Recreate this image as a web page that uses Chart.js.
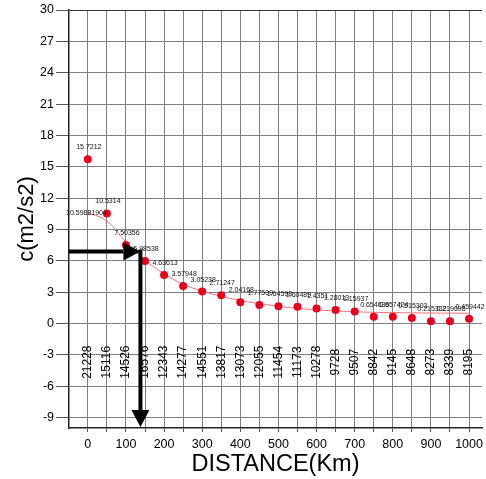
<!DOCTYPE html>
<html><head><meta charset="utf-8">
<script src="https://cdn.jsdelivr.net/npm/chart.js@4.4.1/dist/chart.umd.min.js"></script>
<style>html,body{margin:0;padding:0;background:#fff}#wrap{width:486px;height:479px}</style>
</head><body><div id="wrap"><canvas id="c" width="486" height="479"></canvas></div>
<script>
const distances = [0,50,100,150,200,250,300,350,400,450,500,550,600,650,700,750,800,850,900,950,1000];
const covValues = [15.7212,10.5314,7.50356,5.98538,4.63613,3.57948,3.05238,2.71247,2.04168,1.77509,1.64598,1.60489,1.4351,1.28013,1.15937,0.654639,0.657424,0.515303,0.215332,0.219698,0.459442];
const valueLabels = ["15.7212","10.5314","7.50356","5.98538","4.63613","3.57948","3.05238","2.71247","2.04168","1.77509","1.64598","1.60489","1.4351","1.28013","1.15937","0.654639","0.657424","0.515303","0.215332","0.219698","0.459442"];
const pairCounts = [21228,15116,14526,16576,12343,14277,14551,13817,13073,12055,11454,11173,10278,9728,9507,8842,9145,8648,8273,8339,8195];
const fitValues = [10.60,9.8,7.8,6.05,4.75,3.75,3.1,2.6,2.2,1.9,1.65,1.45,1.3,1.2,1.12,1.07,1.04,1.02,1.0,0.99,0.98];
const fitLabel = "10.59881904";
const xTicks = [0,50,100,150,200,250,300,350,400,450,500,550,600,650,700,750,800,850,900,950,1000];
const yTicks = [-9,-6,-3,0,3,6,9,12,15,18,21,24,27,30];
const arrowLevel = 6.9;
const arrowDistance = 138;
const countLabelLevel = -3.7;

const FONT = "'Liberation Sans', Arial, Helvetica, sans-serif";
Chart.defaults.font.family = FONT;
Chart.defaults.color = '#000';

const annot = {
  id: 'annot',
  afterDatasetsDraw(chart) {
    const ctx = chart.ctx, xs = chart.scales.x, ys = chart.scales.y, ca = chart.chartArea;
    ctx.save();
    // value labels
    ctx.fillStyle = '#111';
    ctx.font = '7px ' + FONT;
    ctx.textAlign = 'center';
    ctx.textBaseline = 'middle';
    distances.forEach((d, i) => {
      ctx.fillText(valueLabels[i], xs.getPixelForValue(d) + 1, ys.getPixelForValue(covValues[i]) - 12);
    });
    // fit label
    ctx.textAlign = 'right';
    ctx.fillText(fitLabel, xs.getPixelForValue(distances[1]), ys.getPixelForValue(fitValues[0]));
    // count labels
    ctx.fillStyle = '#000';
    ctx.font = '12px ' + FONT;
    ctx.textAlign = 'center';
    distances.forEach((d, i) => {
      ctx.save();
      ctx.translate(xs.getPixelForValue(d), ys.getPixelForValue(countLabelLevel));
      ctx.rotate(-Math.PI / 2);
      ctx.fillText(String(pairCounts[i]), 0, 0);
      ctx.restore();
    });
    // arrows
    const ax = xs.getPixelForValue(arrowDistance);
    const ay = ys.getPixelForValue(arrowLevel);
    const hl = 17, hw = 9;
    ctx.strokeStyle = '#000';
    ctx.fillStyle = '#000';
    ctx.lineWidth = 4;
    ctx.beginPath();
    ctx.moveTo(ca.left, ay);
    ctx.lineTo(ax - hl, ay);
    ctx.stroke();
    ctx.beginPath();
    ctx.moveTo(ax, ay);
    ctx.lineTo(ax - hl, ay - hw);
    ctx.lineTo(ax - hl, ay + hw);
    ctx.closePath();
    ctx.fill();
    ctx.beginPath();
    ctx.moveTo(ax, ay - 2);
    ctx.lineTo(ax, ca.bottom - hl);
    ctx.stroke();
    ctx.beginPath();
    ctx.moveTo(ax, ca.bottom - 1);
    ctx.lineTo(ax - hw, ca.bottom - 1 - hl);
    ctx.lineTo(ax + hw, ca.bottom - 1 - hl);
    ctx.closePath();
    ctx.fill();
    ctx.restore();
  }
};

new Chart(document.getElementById('c'), {
  type: 'scatter',
  data: {
    datasets: [
      {
        type: 'line',
        data: distances.map((d, i) => ({x: d, y: fitValues[i]})),
        borderColor: '#ff7070',
        borderWidth: 1,
        pointRadius: 0,
        tension: 0.4,
        fill: false,
        order: 2
      },
      {
        type: 'scatter',
        data: distances.map((d, i) => ({x: d, y: covValues[i]})),
        backgroundColor: '#e8001e',
        borderWidth: 0,
        pointRadius: 4,
        order: 1
      }
    ]
  },
  options: {
    responsive: false,
    animation: false,
    devicePixelRatio: 1,
    layout: {padding: {top: 10, right: 0, bottom: 0, left: 0}},
    plugins: {legend: {display: false}, tooltip: {enabled: false}},
    scales: {
      x: {
        type: 'linear',
        min: -49.4,
        max: 1034,
        afterBuildTicks: s => { s.ticks = xTicks.map(v => ({value: v})); },
        afterFit: s => { s.height = 51; s.paddingLeft = 0; s.paddingRight = 0; },
        ticks: {
          font: {size: 12.5},
          color: '#000',
          padding: 5,
          maxRotation: 0,
          autoSkip: false,
          callback: v => (v % 100 === 0 ? String(v) : '')
        },
        grid: {color: '#808080', lineWidth: 1, tickLength: 4, tickColor: '#555'},
        border: {display: true, color: '#222', width: 1.5},
        title: {display: true, text: 'DISTANCE(Km)', font: {size: 23.5}, color: '#000', padding: {top: 0, bottom: 0}}
      },
      y: {
        type: 'linear',
        min: -10,
        max: 30,
        afterBuildTicks: s => { s.ticks = yTicks.map(v => ({value: v})); },
        afterFit: s => { s.width = 69; s.paddingTop = 0; s.paddingBottom = 0; },
        ticks: {font: {size: 12.5}, color: '#000', padding: 2, autoSkip: false},
        grid: {
          color: c => (c.tick && c.tick.value === 30 ? '#333' : '#808080'),
          lineWidth: 1, tickLength: 13, tickColor: '#555'
        },
        border: {display: true, color: '#222', width: 1.5},
        title: {display: true, text: 'c(m2/s2)', font: {size: 22}, color: '#000', padding: {top: 14, bottom: 0}}
      }
    }
  },
  plugins: [annot]
});
</script>
</body></html>
